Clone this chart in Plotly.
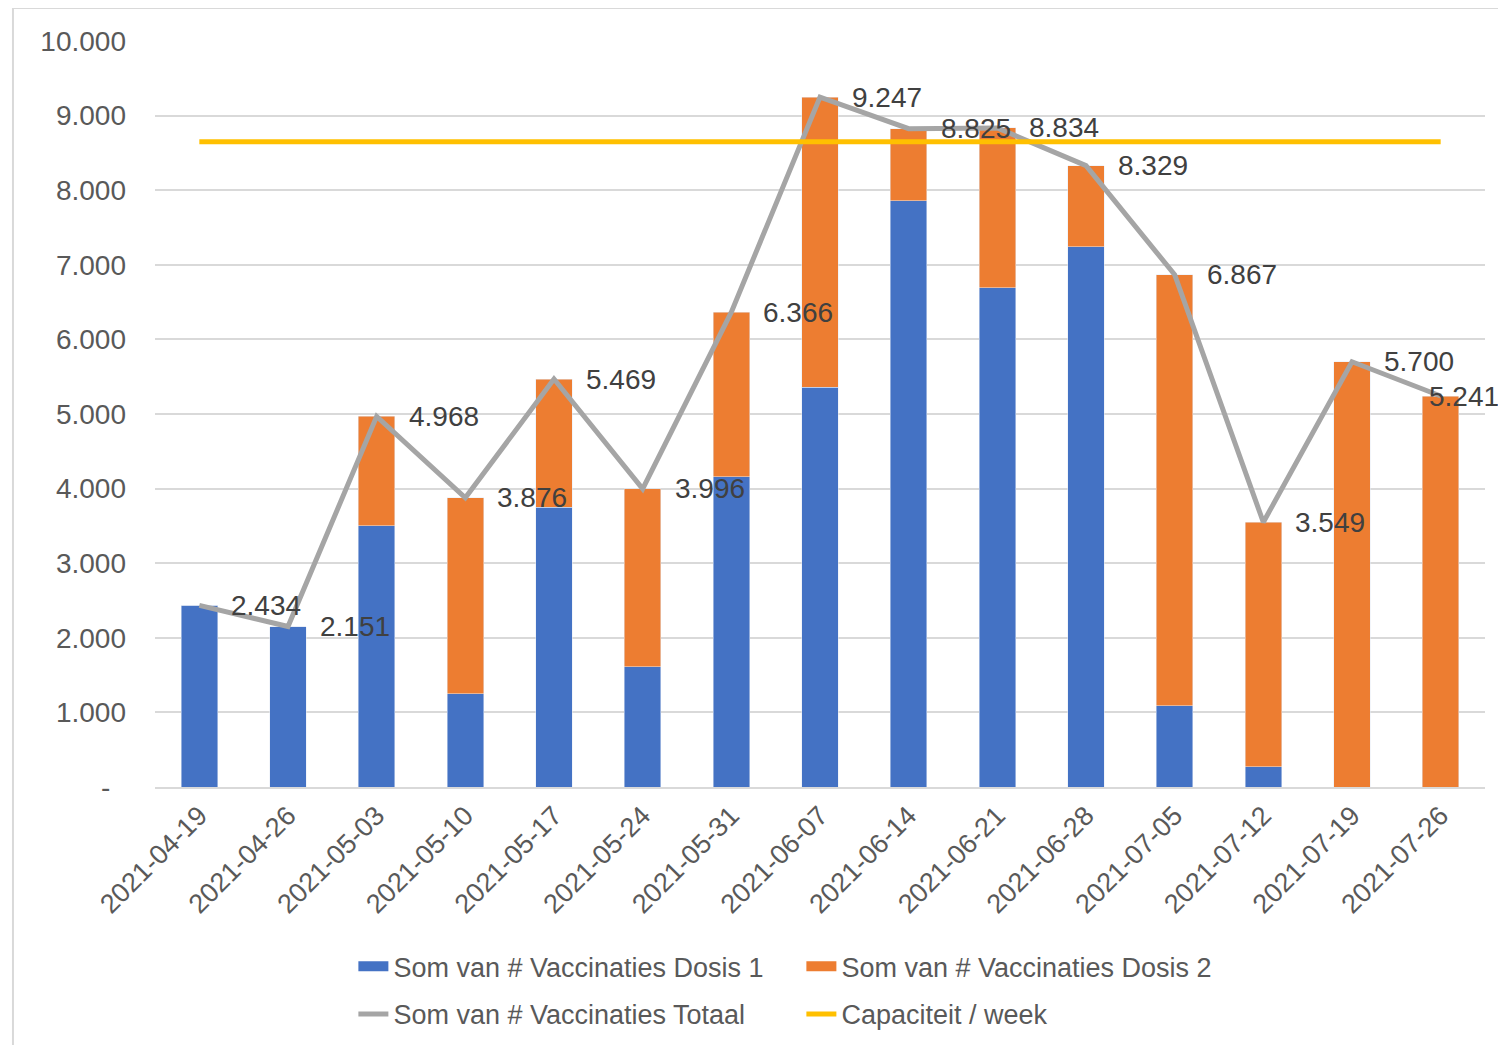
import plotly.graph_objects as go

# data
weeks = ['2021-04-19', '2021-04-26', '2021-05-03', '2021-05-10', '2021-05-17',
         '2021-05-24', '2021-05-31', '2021-06-07', '2021-06-14', '2021-06-21',
         '2021-06-28', '2021-07-05', '2021-07-12', '2021-07-19', '2021-07-26']
dosis1 = [2434, 2151, 3500, 1250, 3750, 1610, 4160, 5360, 7860, 6690, 7240, 1090, 270, 0, 0]
totaal = [2434, 2151, 4968, 3876, 5469, 3996, 6366, 9247, 8825, 8834, 8329, 6867, 3549, 5700, 5241]
dosis2 = [t - d for t, d in zip(totaal, dosis1)]
capaciteit = [8650] * len(weeks)

y_ticks = [0, 1000, 2000, 3000, 4000, 5000, 6000, 7000, 8000, 9000, 10000]
y_ticktext = ['-\u00a0\u00a0'] + ['{:,}'.format(v).replace(',', '.') for v in y_ticks[1:]]

font = 'Liberation Sans, Arial, sans-serif'
grey_txt = '#595959'
blue, orange = '#4472C4', '#ED7D31'

fig = go.Figure()
fig.add_trace(go.Bar(x=weeks, y=dosis1, name='Som van # Vaccinaties Dosis 1',
                     marker_color=blue, showlegend=False))
fig.add_trace(go.Bar(x=weeks, y=dosis2, name='Som van # Vaccinaties Dosis 2',
                     marker_color=orange, showlegend=False))
fig.add_trace(go.Scatter(x=weeks, y=totaal, name='Som van # Vaccinaties Totaal',
                         mode='lines', line=dict(color='#A5A5A5', width=5), legend='legend2'))
fig.add_trace(go.Scatter(x=weeks, y=capaciteit, name='Capaciteit / week',
                         mode='lines', line=dict(color='#FFC000', width=5), legend='legend2'))
# legend entries for the bars drawn as thick lines (Excel-like wide swatches)
for nm, c in [('Som van # Vaccinaties Dosis 1', blue), ('Som van # Vaccinaties Dosis 2', orange)]:
    fig.add_trace(go.Scatter(x=[None], y=[None], name=nm, mode='lines',
                             line=dict(color=c, width=14), legend='legend'))

# data labels for totaal (last one pulled back so it fits)
for i, (w, t) in enumerate(zip(weeks, totaal)):
    fig.add_annotation(x=w, y=t, text='{:,}'.format(t).replace(',', '.'),
                       showarrow=False, xanchor='left', yanchor='middle',
                       xshift=30 if i < len(weeks) - 1 else -14,
                       font=dict(size=28, color='#404040', family=font))

# outer frame (left and top edges)
fig.add_shape(type='line', xref='paper', yref='paper', x0=-0.1068, x1=1.05, y0=1.0442, y1=1.0442,
              line=dict(color='#D9D9D9', width=2))
fig.add_shape(type='line', xref='paper', yref='paper', x0=-0.1068, x1=-0.1068, y0=-0.5, y1=1.0442,
              line=dict(color='#D9D9D9', width=2))

# page has an 8px body margin, so the figure is sized/offset to compensate
fig.update_layout(
    barmode='stack',
    bargap=0.59,
    width=1498, height=1037,
    margin=dict(l=147, r=21, t=33, b=258, autoexpand=False),
    plot_bgcolor='white', paper_bgcolor='white',
    font=dict(family=font, size=27, color=grey_txt),
    legend=dict(orientation='h', x=0.486, xanchor='center', y=-0.208, yanchor='top',
                font=dict(size=27, color=grey_txt), entrywidth=403, entrywidthmode='pixels',
                traceorder='normal'),
    legend2=dict(orientation='h', x=0.486, xanchor='center', y=-0.272, yanchor='top',
                 font=dict(size=27, color=grey_txt), entrywidth=403, entrywidthmode='pixels',
                 traceorder='normal'),
)
fig.update_xaxes(type='category', range=[-0.5, 14.5], tickangle=-45,
                 tickfont=dict(size=27, color=grey_txt), showgrid=False,
                 showline=True, linecolor='#D9D9D9', linewidth=2, ticks='')
fig.update_yaxes(range=[0, 10000], tickvals=y_ticks, ticktext=y_ticktext,
                 tickfont=dict(size=28, color=grey_txt), showgrid=True,
                 gridcolor='#D9D9D9', gridwidth=2, zeroline=False, ticklabelstandoff=28)

fig.write_html('out.html')
